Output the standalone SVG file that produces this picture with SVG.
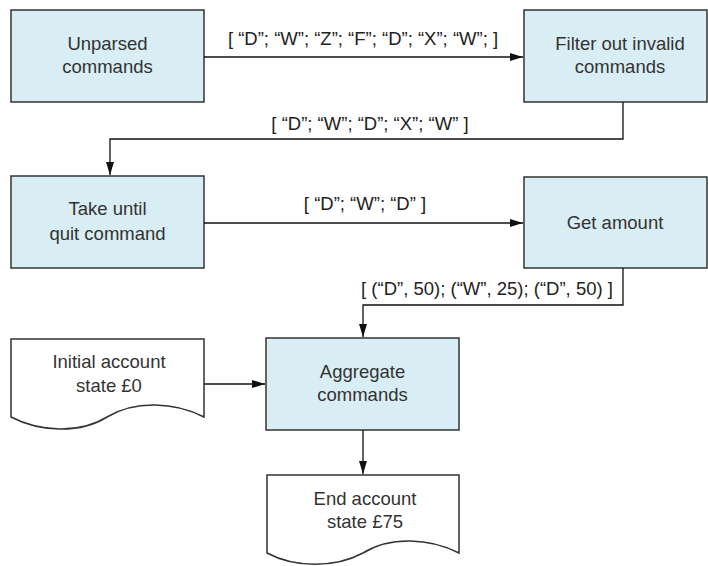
<svg xmlns="http://www.w3.org/2000/svg" width="708" height="566" viewBox="0 0 708 566">
<defs>
<marker id="ah" markerWidth="14" markerHeight="10" refX="13" refY="5" orient="auto" markerUnits="userSpaceOnUse">
<path d="M0,1 L13,5 L0,9 Z" fill="#111"/>
</marker>
<style>
.box{fill:#d9eef4;stroke:#333;stroke-width:1.5}
.doc{fill:#fff;stroke:#333;stroke-width:1.5}
text{font-family:"Liberation Sans",Arial,sans-serif;font-size:18.5px;fill:#333;text-anchor:middle}
.lbl{fill:#222}
.con{fill:none;stroke:#111;stroke-width:1.3}
</style>
</defs>
<rect width="708" height="566" fill="#fff"/>
<g id="n-unparsed">
<rect class="box" x="11" y="10" width="193" height="92"/>
<text x="107.5" y="50">Unparsed</text>
<text x="107.5" y="73">commands</text>
</g>
<g id="n-filter">
<rect class="box" x="524" y="10" width="183" height="92"/>
<text x="620" y="50">Filter out invalid</text>
<text x="620" y="73">commands</text>
</g>
<g id="n-take">
<rect class="box" x="11" y="176" width="193" height="92"/>
<text x="107.5" y="215">Take until</text>
<text x="107.5" y="240">quit command</text>
</g>
<g id="n-amount">
<rect class="box" x="524" y="177" width="183" height="91"/>
<text x="615" y="229">Get amount</text>
</g>
<g id="n-initial">
<path class="doc" d="M11,339 H204 V417 C175,402 135,400 107,417 C80,434 40,432 11,417 Z"/>
<text x="109" y="368">Initial account</text>
<text x="109" y="392">state £0</text>
</g>
<g id="n-aggregate">
<rect class="box" x="266" y="338" width="193" height="92"/>
<text x="362.5" y="378">Aggregate</text>
<text x="362.5" y="401">commands</text>
</g>
<g id="n-end">
<path class="doc" d="M267,475 H459 V553 C430,538 390,536 363,553 C335,568 295,568 267,553 Z"/>
<text x="365" y="505">End account</text>
<text x="365" y="528">state £75</text>
</g>
<g id="connectors">
<path class="con" d="M204,57 H523" marker-end="url(#ah)"/>
<text class="lbl" x="363" y="45">[ “D”; “W”; “Z”; “F”; “D”; “X”; “W”; ]</text>
<path class="con" d="M623,102 V139 H110 V175" marker-end="url(#ah)"/>
<text class="lbl" x="370" y="130">[ “D”; “W”; “D”; “X”; “W” ]</text>
<path class="con" d="M204,223 H523" marker-end="url(#ah)"/>
<text class="lbl" x="365" y="210">[ “D”; “W”; “D” ]</text>
<path class="con" d="M623,268 V305 H363 V337" marker-end="url(#ah)"/>
<text class="lbl" x="487" y="295">[ (“D”, 50); (“W”, 25); (“D”, 50) ]</text>
<path class="con" d="M204,384 H265" marker-end="url(#ah)"/>
<path class="con" d="M363,430 V474" marker-end="url(#ah)"/>
</g>
</svg>
